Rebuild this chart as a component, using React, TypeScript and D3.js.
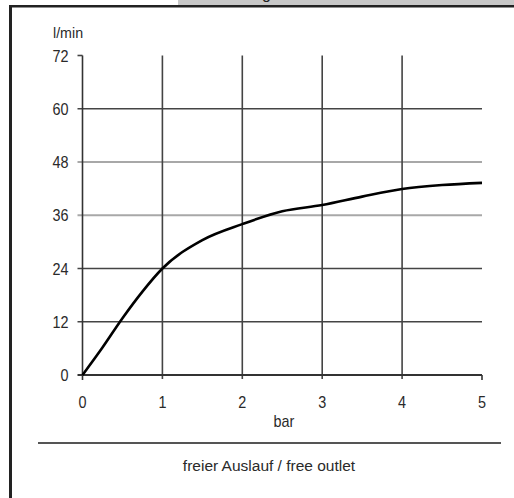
import React from "react";
import * as d3 from "d3";

const pressures = [0, 0.25, 0.5, 0.75, 1, 1.5, 2, 2.5, 3, 3.5, 4, 4.5, 5];
const flows = [0, 6.2, 12.8, 18.8, 24, 30.4, 34, 36.9, 38.3, 40.2, 41.9, 42.8, 43.3];
const xTicks = [0, 1, 2, 3, 4, 5];
const yTicks = [0, 12, 24, 36, 48, 60, 72];
const darkY = [12, 24, 60];
const lightY = [36, 48];

const W = 514;
const H = 498;
const font = "'Liberation Sans', Arial, sans-serif";

function T({ x, y, sx = 0.9, size = 16, anchor = "start", children }: any) {
  return (
    <text
      transform={`translate(${x},${y}) scale(${sx},1)`}
      textAnchor={anchor}
      fontFamily={font}
      fontSize={size}
      fill="#2a2a2a"
    >
      {children}
    </text>
  );
}

export default function App() {
  const x = d3.scaleLinear().domain([0, 5]).range([82.5, 482]);
  const y = d3.scaleLinear().domain([0, 72]).range([375, 55.5]);
  const line = d3
    .line<number>()
    .x((_, i) => x(pressures[i]))
    .y((d) => y(d))
    .curve(d3.curveMonotoneX);

  return (
    <svg
      width={W}
      height={H}
      style={{ position: "absolute", left: 0, top: 0, background: "#fff" }}
    >
      {/* top banner */}
      <rect x={178} y={0} width={W - 178} height={5} fill="#c8c8c8" />
      <text x={262} y={-1} fontFamily={font} fontSize={16} fill="#222">g</text>
      <rect x={9} y={5} width={W - 9} height={2.5} fill="#222" />
      <rect x={9} y={5} width={3} height={H - 5} fill="#222" />

      {/* light horizontal grid */}
      {lightY.map((v) => (
        <line key={"l" + v} x1={x(0) - 5} x2={x(5)} y1={y(v)} y2={y(v)} stroke="#a8a8a8" strokeWidth={2} />
      ))}
      {/* dark horizontal grid */}
      {darkY.map((v) => (
        <line key={"d" + v} x1={x(0) - 5} x2={x(5)} y1={y(v)} y2={y(v)} stroke="#444" strokeWidth={1.6} />
      ))}
      <line x1={x(0) - 5} x2={x(0)} y1={y(72)} y2={y(72)} stroke="#444" strokeWidth={1.6} />
      {/* vertical grid */}
      {xTicks.slice(1, 5).map((v) => (
        <line key={"v" + v} x1={x(v)} x2={x(v)} y1={y(72)} y2={y(0) + 4} stroke="#444" strokeWidth={1.6} />
      ))}
      {/* axes */}
      <line x1={x(0)} x2={x(0)} y1={y(72)} y2={y(0) + 5} stroke="#333" strokeWidth={1.6} />
      <line x1={x(0) - 5} x2={x(5)} y1={y(0)} y2={y(0)} stroke="#333" strokeWidth={2} />
      <line x1={x(5)} x2={x(5)} y1={y(0)} y2={y(0) + 5} stroke="#333" strokeWidth={1.6} />

      {/* curve */}
      <path d={line(flows) || ""} fill="none" stroke="#000" strokeWidth={2.6} />

      {/* y labels */}
      {yTicks.map((v) => (
        <T key={"yt" + v} x={x(0) - 14} y={y(v) + 6} anchor="end">
          {v}
        </T>
      ))}
      <T x={53} y={38} size={15} sx={0.95}>l/min</T>

      {/* x labels */}
      {xTicks.map((v) => (
        <T key={"xt" + v} x={x(v)} y={y(0) + 33} anchor="middle">
          {v}
        </T>
      ))}
      <T x={284} y={427} anchor="middle">bar</T>

      {/* separator and caption */}
      <line x1={38} x2={501} y1={443} y2={443} stroke="#555" strokeWidth={2} />
      <T x={269} y={471} anchor="middle" size={15.5} sx={1}>
        freier Auslauf / free outlet
      </T>
    </svg>
  );
}
